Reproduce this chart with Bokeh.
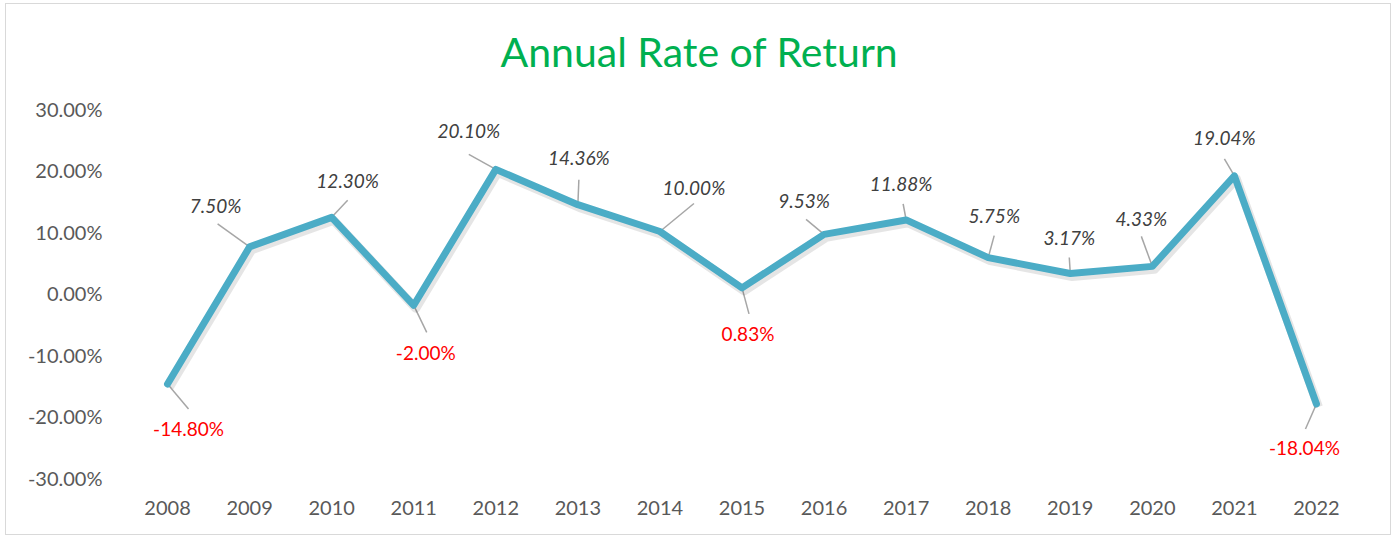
from bokeh.plotting import figure
from bokeh.models import ColumnDataSource, FixedTicker, NumeralTickFormatter, Range1d, Title
from bokeh.core.properties import value
from bokeh.embed import file_html
from bokeh.resources import INLINE

# ---- data ----
title_text = "Annual Rate of Return"
years = [2008, 2009, 2010, 2011, 2012, 2013, 2014, 2015, 2016, 2017, 2018, 2019, 2020, 2021, 2022]
returns = [-0.1480, 0.0750, 0.1230, -0.0200, 0.2010, 0.1436, 0.1000, 0.0083,
           0.0953, 0.1188, 0.0575, 0.0317, 0.0433, 0.1904, -0.1804]
labels = ["-14.80%", "7.50%", "12.30%", "-2.00%", "20.10%", "14.36%", "10.00%", "0.83%",
          "9.53%", "11.88%", "5.75%", "3.17%", "4.33%", "19.04%", "-18.04%"]
y_ticks = [-0.3, -0.2, -0.1, 0.0, 0.1, 0.2, 0.3]

# ---- label placement (screen px, relative to the point; +y is down) ----
label_dx = [21, -34, 16, 12, -27, 1, 34, 6, -20, -5, 6, -1, -11, -10, -12]
label_dy = [44, -41, -37, 47, -39, -47, -44, 46, -34, -36, -42, -36, -48, -38, 44]
lead_dx = [21, -32, 16, 13, -27, 1, 34, 7, -18, -3, 6, -1, -11, -10, -11]
lead_dy = [25, -23, -17, 27, -15, -25, -28, 26, -15, -16, -22, -16, -30, -17, 25]
red_idx = {0, 3, 7, 14}
label_colors = ["#FF0000" if i in red_idx else "#404040" for i in range(len(years))]
label_styles = ["normal" if i in red_idx else "italic" for i in range(len(years))]

FONT = "Lato"
W, H = 1386, 532
ML, MR, MT, MB = 120, 35, 104, 59
frame_w = W - ML - MR
frame_h = H - MT - MB
x0, x1 = years[0] - 0.5, years[-1] + 0.5
y0, y1 = -0.3, 0.3
px_per_x = frame_w / (x1 - x0)
px_per_y = frame_h / (y1 - y0)

p = figure(width=W, height=H, output_backend="svg", toolbar_location=None,
           x_range=Range1d(x0, x1), y_range=Range1d(y0, y1),
           min_border_left=ML, min_border_right=MR, min_border_top=MT, min_border_bottom=MB)
p.styles = {"border": "1px solid #D9D9D9", "margin-left": "5px", "margin-top": "3px"}
p.outline_line_color = None
p.xgrid.grid_line_color = None
p.ygrid.grid_line_color = None
p.background_fill_color = "white"
p.border_fill_color = "white"

# spacer panel between the plotting area and the title
p.add_layout(Title(text=" ", text_font_size="1px", standoff=30), "above")
# chart title
p.add_layout(Title(text=title_text, text_color="#00B050", text_font=FONT,
                   text_font_size="41px", text_font_style="normal",
                   align="left", offset=374, standoff=0), "above")

for ax in (p.xaxis[0], p.yaxis[0]):
    ax.axis_line_color = None
    ax.major_tick_line_color = None
    ax.minor_tick_line_color = None
    ax.major_tick_out = 0
    ax.major_tick_in = 0
    ax.major_label_text_color = "#595959"
    ax.major_label_text_font = FONT
    ax.major_label_text_font_size = "20px"

p.xaxis.ticker = FixedTicker(ticks=years)
p.xaxis.major_label_standoff = 23
p.yaxis.ticker = FixedTicker(ticks=y_ticks)
p.yaxis.formatter = NumeralTickFormatter(format="0.00%")
p.yaxis.major_label_standoff = 24

# leader lines
lx1 = [x + dx / px_per_x for x, dx in zip(years, lead_dx)]
ly1 = [y - dy / px_per_y for y, dy in zip(returns, lead_dy)]
p.segment(x0=years, y0=returns, x1=lx1, y1=ly1, line_color="#A6A6A6", line_width=1.5)

# soft shadow under the line
sx = [x + 2 / px_per_x for x in years]
sy = [y - 3 / px_per_y for y in returns]
p.line(sx, sy, line_color="#000000", line_alpha=0.10, line_width=9, line_join="round")

# main line
p.line(years, returns, line_color="#4BACC6", line_width=7, line_join="round", line_cap="round")

src = ColumnDataSource(dict(x=years, y=returns, t=labels, dx=label_dx, dy=label_dy,
                            c=label_colors, s=label_styles))
p.text(x="x", y="y", text="t", x_offset="dx", y_offset="dy", text_color="c",
       text_font_style="s", text_font=value(FONT), text_font_size="19px",
       text_align="center", text_baseline="middle", source=src)

open("out.html", "w").write(file_html(p, INLINE))
